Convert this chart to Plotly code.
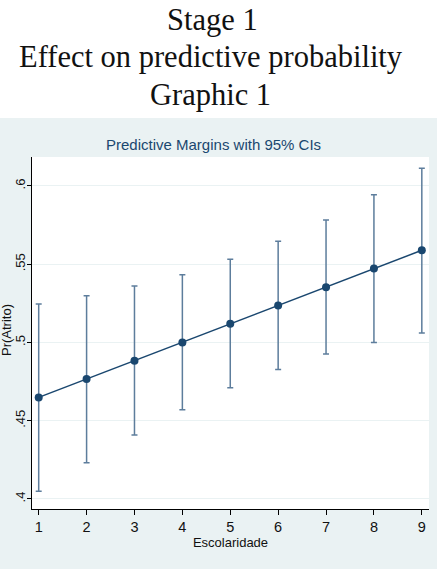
import plotly.graph_objects as go

# Predictive margins of Pr(Atrito) by years of schooling, with 95% CIs
escolaridade = [1, 2, 3, 4, 5, 6, 7, 8, 9]
margin = [0.4649, 0.4766, 0.4883, 0.5000, 0.5119, 0.5236, 0.5353, 0.5472, 0.5589]
ci_low = [0.4049, 0.4232, 0.4409, 0.4570, 0.4711, 0.4828, 0.4926, 0.5000, 0.5061]
ci_high = [0.5246, 0.5298, 0.5360, 0.5432, 0.5532, 0.5647, 0.5783, 0.5944, 0.6113]

y_ticks = [0.40, 0.45, 0.50, 0.55, 0.60]
y_tick_text = [".4", ".45", ".5", ".55", ".6"]

W, H = 437, 569
ML, MR, MT, MB = 32, 8, 157, 60
PW, PH = W - ML - MR, H - MT - MB

NAVY = "#1a476f"
CI_COL = "#5d7d9c"
PANEL = "#eaf2f3"
SANS = "Liberation Sans, Arial, sans-serif"
SERIF = "Liberation Serif, Times New Roman, serif"


def px_x(px):
    return (px - ML) / PW


def px_y(py):
    return (H - MB - py) / PH


err_plus = [h - m for h, m in zip(ci_high, margin)]
err_minus = [m - l for m, l in zip(margin, ci_low)]

fig = go.Figure()
fig.add_trace(go.Scatter(
    x=escolaridade, y=margin, mode="lines+markers",
    line=dict(color=NAVY, width=1.5),
    marker=dict(color=NAVY, size=8),
    error_y=dict(type="data", symmetric=False, array=err_plus,
                 arrayminus=err_minus, color=CI_COL, thickness=1.5, width=3),
    showlegend=False,
))

annotations = [
    dict(text="Stage 1", x=px_x(212), y=px_y(20)),
    dict(text="Effect on predictive probability", x=px_x(211), y=px_y(57)),
    dict(text="Graphic 1", x=px_x(210), y=px_y(95)),
]
for a in annotations:
    a.update(xref="paper", yref="paper", showarrow=False,
             xanchor="center", yanchor="middle",
             font=dict(family=SERIF, size=30.5, color="#111111"))

annotations.append(dict(
    text="Predictive Margins with 95% CIs", x=px_x(213), y=px_y(144),
    xref="paper", yref="paper", showarrow=False,
    xanchor="center", yanchor="middle",
    font=dict(family=SANS, size=15, color=NAVY)))

# y-axis title, rotated, at the far left of the panel
annotations.append(dict(
    text="Pr(Atrito)", x=px_x(6), y=px_y(330),
    xref="paper", yref="paper", showarrow=False, textangle=-90,
    xanchor="center", yanchor="middle",
    font=dict(family=SANS, size=13, color="#111111")))

fig.update_layout(
    width=W, height=H,
    margin=dict(l=ML, r=MR, t=MT, b=MB, pad=0),
    paper_bgcolor=PANEL, plot_bgcolor="white",
    annotations=annotations,
    shapes=[dict(type="rect", xref="paper", yref="paper",
                 x0=-0.2, x1=1.2, y0=px_y(118), y1=px_y(-20),
                 fillcolor="white", line=dict(width=0), layer="below")],
    xaxis=dict(
        range=[0.86, 9.15], tickvals=escolaridade, ticks="outside",
        ticklen=5, tickcolor="black", showline=True, linecolor="black",
        linewidth=1, showgrid=False, zeroline=False, mirror=False,
        tickfont=dict(family=SANS, size=14.5, color="#111111"),
        title=dict(text="Escolaridade", standoff=0,
                   font=dict(family=SANS, size=13, color="#111111")),
    ),
    yaxis=dict(
        range=[0.3936, 0.6185], tickvals=y_ticks, ticktext=y_tick_text,
        tickangle=-90, ticks="outside", ticklen=4, tickcolor="black",
        ticklabelstandoff=-3,
        showline=True, linecolor="black", linewidth=1,
        showgrid=True, gridcolor=PANEL, gridwidth=1, zeroline=False,
        tickfont=dict(family=SANS, size=13, color="#111111"),
    ),
)

fig.write_html("out.html")
